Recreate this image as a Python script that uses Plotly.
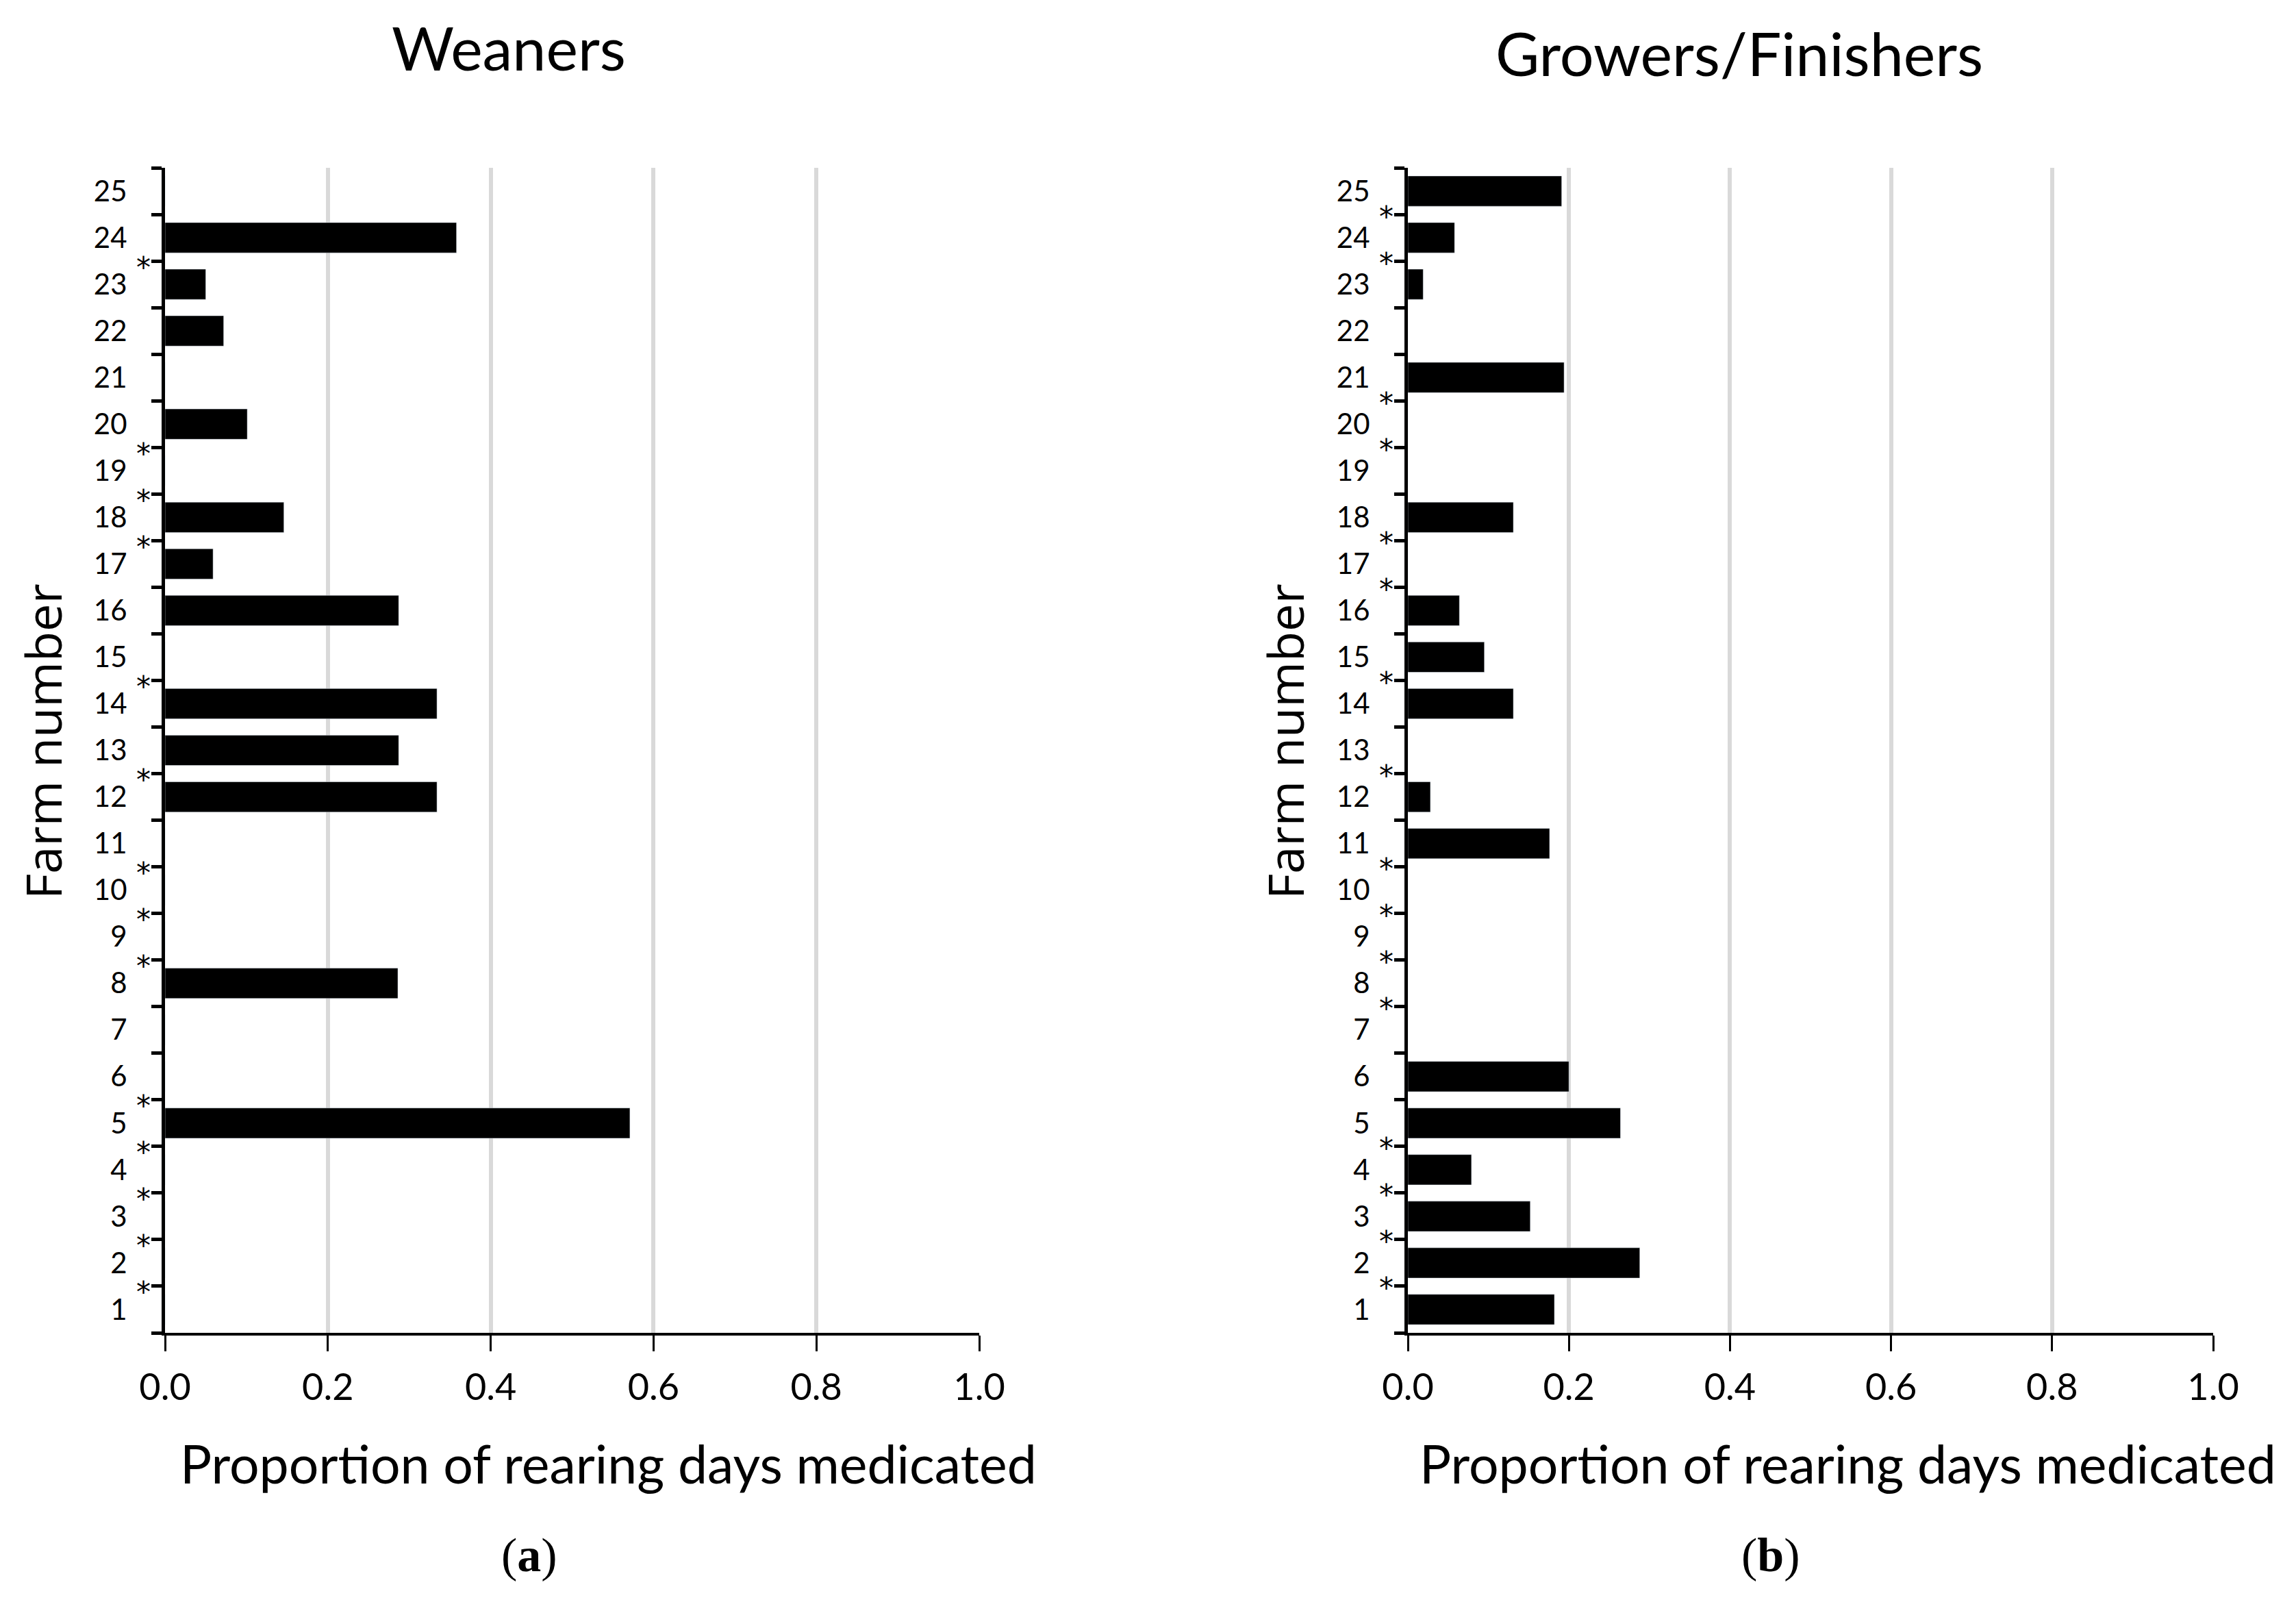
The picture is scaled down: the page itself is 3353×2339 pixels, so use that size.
import plotly.graph_objects as go

W, H = 3353, 2339

farms = [str(i) for i in range(1, 26)]

# proportion of rearing days medicated, farm 1..25
weaners = [0, 0, 0, 0, 0.571, 0, 0, 0.286, 0, 0, 0, 0.334, 0.287, 0.334, 0,
           0.287, 0.059, 0.146, 0, 0.101, 0, 0.072, 0.050, 0.358, 0]
growers = [0.182, 0.288, 0.152, 0.079, 0.264, 0.200, 0, 0, 0, 0, 0.176, 0.028, 0,
           0.131, 0.095, 0.064, 0, 0.131, 0, 0, 0.194, 0, 0.019, 0.058, 0.191]

# asterisk drawn on the boundary just above these farms
weaner_stars = [1, 2, 3, 4, 5, 8, 9, 10, 12, 14, 17, 18, 19, 23]
grower_stars = [1, 2, 3, 4, 7, 8, 9, 10, 12, 14, 16, 17, 19, 20, 23, 24]

x_ticks = [0.0, 0.2, 0.4, 0.6, 0.8, 1.0]

TXT = "Lato"


def px(x):
    return x / W


def py(y):
    return 1 - y / H


fig = go.Figure()
fig.add_trace(go.Bar(y=farms, x=weaners, orientation="h", marker_color="black",
                     xaxis="x", yaxis="y", showlegend=False))
fig.add_trace(go.Bar(y=farms, x=growers, orientation="h", marker_color="black",
                     xaxis="x2", yaxis="y2", showlegend=False))

xax = dict(range=[0, 1], tickvals=x_ticks, tickformat=".1f", automargin=False,
           showgrid=True, gridcolor="#d9d9d9", gridwidth=6,
           showline=True, linecolor="black", linewidth=4,
           ticks="outside", ticklen=23, tickwidth=3, tickcolor="black",
           tickfont=dict(family=TXT, size=54, color="black"),
           ticklabelstandoff=6, zeroline=False, fixedrange=True)
yax = dict(type="category", categoryorder="array", categoryarray=farms,
           range=[-0.5, 24.5], tickson="boundaries", automargin=False,
           showline=True, linecolor="black", linewidth=5,
           ticks="outside", ticklen=15, tickwidth=5, tickcolor="black",
           tickfont=dict(family=TXT, size=42, color="black"),
           ticklabelstandoff=42, showgrid=False, fixedrange=True)

fig.update_layout(
    width=W, height=H,
    margin=dict(l=0, r=0, t=0, b=0),
    paper_bgcolor="white", plot_bgcolor="white",
    bargap=0.35,
    xaxis=dict(xax, domain=[px(233), px(1422)], anchor="y"),
    yaxis=dict(yax, domain=[py(1938), py(237)], anchor="x"),
    xaxis2=dict(xax, domain=[px(2048), px(3224)], anchor="y2"),
    yaxis2=dict(yax, domain=[py(1938), py(237)], anchor="x2"),
)

anns = []
for stars, xr, yr, dy in [(weaner_stars, "x domain", "y", -9), (grower_stars, "x2 domain", "y2", -3)]:
    for k in stars:
        anns.append(dict(text="*", x=0, y=k - 0.5, xref=xr, yref=yr,
                         xanchor="right", yanchor="middle", xshift=-19, yshift=dy,
                         showarrow=False, font=dict(family="DejaVu Sans", size=42, color="black")))

titles = [
    ("Weaners", 735, 61, TXT, 88, 0),
    ("Growers/Finishers", 2532, 69, TXT, 88, 0),
    ("Proportion of rearing days medicated", 880, 2128, TXT, 77, 0),
    ("Proportion of rearing days medicated", 2690, 2128, TXT, 77, 0),
    ("(<b>a</b>)", 765, 2262, "Liberation Serif", 70, 0),
    ("(<b>b</b>)", 2578, 2262, "Liberation Serif", 70, 0),
    ("Farm number", 54, 1075, "Open Sans", 72, -90),
    ("Farm number", 1868, 1075, "Open Sans", 72, -90),
]
for text, x, y, fam, size, ang in titles:
    anns.append(dict(text=text, x=px(x), y=py(y), xref="paper", yref="paper",
                     xanchor="center", yanchor="middle", textangle=ang,
                     showarrow=False, font=dict(family=fam, size=size, color="black")))

fig.update_layout(annotations=anns)
fig.write_html("out.html")
